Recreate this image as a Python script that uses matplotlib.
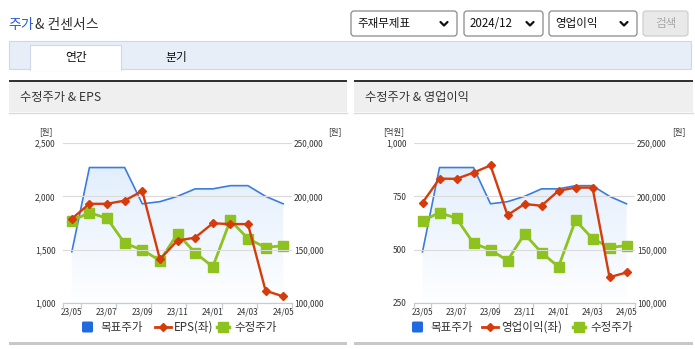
import numpy as np
import matplotlib.pyplot as plt
from matplotlib.patches import Rectangle, FancyBboxPatch
from matplotlib.ticker import FuncFormatter

plt.rcParams['font.family'] = ['Noto Sans CJK KR', 'DejaVu Sans']

W, H = 695, 349

# ===================== 데이터 =====================
months = ['23/05', '23/06', '23/07', '23/08', '23/09', '23/10', '23/11',
          '23/12', '24/01', '24/02', '24/03', '24/04', '24/05']
target_price = [148000, 227000, 227000, 227000, 193000, 195000, 200000,
                207000, 207000, 210000, 210000, 200000, 193000]
adj_price = [177000, 184700, 179400, 156000, 149800, 139800, 164700,
             147300, 133900, 177500, 160400, 152000, 153800]
eps = [1790, 1930, 1930, 1960, 2050, 1410, 1585, 1613, 1747, 1740, 1740, 1115, 1062]
op_income = [720, 833, 832, 861, 895, 662, 714, 706, 776, 791, 791, 371, 393]

BLUE = '#3d7be0'
RED = '#d63c0b'
GREEN = '#8dc21f'
TXT = '#333333'

fig = plt.figure(figsize=(W / 100, H / 100), dpi=100)
bg = fig.add_axes([0, 0, 1, 1])
bg.set_xlim(0, W)
bg.set_ylim(H, 0)
bg.axis('off')

# ===================== 상단 UI =====================
bg.text(8, 25, '주가', color='#2a5bd7', fontsize=10, va='center')
bg.text(35, 25, '& 컨센서스', color=TXT, fontsize=10, va='center')


def dropdown(x0, x1, label, disabled=False):
    fc = '#e9e9e9' if disabled else 'white'
    ec = '#cfcfcf' if disabled else '#8a8a8a'
    bg.add_patch(FancyBboxPatch((x0, 11), x1 - x0, 25, boxstyle='round,pad=0,rounding_size=3',
                                fc=fc, ec=ec, lw=0.9))
    if disabled:
        bg.text((x0 + x1) / 2, 23.5, label, color='#a8a8a8', fontsize=8.3, ha='center', va='center')
    else:
        bg.text(x0 + 6, 23.5, label, color='#111111', fontsize=8.3, va='center')
        cx = x1 - 13
        bg.plot([cx - 3.5, cx, cx + 3.5], [22, 25.5, 22], color='#111111', lw=1.6,
                solid_capstyle='round')


dropdown(351, 457, '주재무제표')
dropdown(464, 543, '2024/12')
dropdown(549, 637, '영업이익')
dropdown(643, 688, '검색', disabled=True)

# 탭
bg.add_patch(Rectangle((9, 41), 682, 28, fc='#e8eef8', ec='#cdd8ea', lw=0.8))
bg.add_patch(Rectangle((30, 45), 91, 25, fc='white', ec='#cdd8ea', lw=0.8))
bg.add_patch(Rectangle((30.5, 68), 90, 3, fc='white', ec='none'))
bg.text(76, 57, '연간', color='#111111', fontsize=8.5, ha='center', va='center')
bg.text(176, 57, '분기', color='#111111', fontsize=8.5, ha='center', va='center')

# ===================== 차트 =====================


def panel(px0, px1, title):
    bg.add_patch(Rectangle((px0, 79.5), px1 - px0, 2.2, fc='#333333', ec='none'))
    bg.add_patch(Rectangle((px0, 81.7), px1 - px0, 30.5, fc='#efefef', ec='none'))
    bg.plot([px0, px1], [112.5, 112.5], color='#dadada', lw=1)
    bg.text(px0 + 11, 98, title, color=TXT, fontsize=8.8, va='center')
    bg.add_patch(Rectangle((px0, 342), px1 - px0, 2.5, fc='#c8c8c8', ec='none'))


def chart(x0, x1, left_vals, left_lim, left_ticks, left_fmt, unit_l, unit_l_x, unit_r_x):
    y0, y1 = 143, 303
    ax = fig.add_axes([x0 / W, 1 - y1 / H, (x1 - x0) / W, (y1 - y0) / H])
    ax2 = ax.twinx()
    x = np.arange(len(months))

    # 목표주가 (면적 그라데이션)
    poly = ax2.fill_between(x, target_price, 100000, color='none', lw=0)
    grad = np.zeros((256, 1, 4))
    grad[:, 0, 0] = 0.87
    grad[:, 0, 1] = 0.925
    grad[:, 0, 2] = 0.99
    grad[:, 0, 3] = np.linspace(0.85, 0.03, 256)
    im = ax2.imshow(grad, extent=[-0.5, 12.5, 100000, 227000], aspect='auto',
                    origin='upper', zorder=1)
    im.set_clip_path(poly.get_paths()[0], transform=ax2.transData)
    ax2.plot(x, target_price, color=BLUE, lw=1.2, zorder=2)
    ax2.plot(x, adj_price, color=GREEN, lw=2.0, marker='s', ms=6.5, zorder=3)

    ax.plot(x, left_vals, color=RED, lw=1.7, marker='D', ms=4.2, zorder=4)

    ax.set_zorder(ax2.get_zorder() + 1)
    ax.patch.set_visible(False)
    ax2.patch.set_visible(False)

    ax.set_xlim(-0.5, 12.5)
    ax.set_ylim(*left_lim)
    ax2.set_ylim(100000, 250000)
    ax.set_yticks(left_ticks)
    ax2.set_yticks([100000, 150000, 200000, 250000])
    ax.yaxis.set_major_formatter(FuncFormatter(left_fmt))
    ax2.yaxis.set_major_formatter(FuncFormatter(lambda v, p: f'{int(v):,}'))
    ax.tick_params(axis='y', length=0, labelsize=6, pad=5.5, labelcolor=TXT)
    ax2.tick_params(axis='y', length=0, labelsize=6, pad=1.5, labelcolor=TXT)
    ax.yaxis.grid(True, color='#dadada', lw=0.8)
    ax.set_axisbelow(True)

    ax.set_xticks(x[::2])
    ax.set_xticklabels(months[::2])
    ax.set_xticks([-0.5] + list(np.arange(0.5, 13, 2)), minor=True)
    ax.tick_params(axis='x', which='major', length=0, labelsize=6, pad=3, labelcolor=TXT)
    ax.tick_params(axis='x', which='minor', length=4, width=0.9, color='#c3cdda')

    for a in (ax, ax2):
        for s in ('top', 'left', 'right'):
            a.spines[s].set_visible(False)
    ax2.spines['bottom'].set_visible(False)
    ax.spines['bottom'].set_color('#c3cdda')
    ax.spines['bottom'].set_linewidth(0.9)

    bg.text(unit_l_x, 132, unit_l, color=TXT, fontsize=6, ha='center', va='center')
    bg.text(unit_r_x, 132, '[원]', color=TXT, fontsize=6, ha='center', va='center')


def legend(bx, rx, gx, red_label):
    yc = 327
    bg.add_patch(FancyBboxPatch((bx, yc - 5.5), 11, 11, boxstyle='round,pad=0,rounding_size=1.5',
                                fc='#1f6ae0', ec='none'))
    bg.text(bx + 18, yc, '목표주가', color=TXT, fontsize=8.3, va='center')
    bg.plot([rx - 8, rx + 8], [yc, yc], color=RED, lw=2)
    bg.plot([rx], [yc], color=RED, marker='D', ms=4.5)
    bg.text(rx + 11, yc, red_label, color=TXT, fontsize=8.3, va='center')
    bg.plot([gx - 6, gx + 6], [yc, yc], color=GREEN, lw=2.5)
    bg.plot([gx], [yc], color=GREEN, marker='s', ms=6.5)
    bg.text(gx + 11, yc, '수정주가', color=TXT, fontsize=8.3, va='center')


panel(9, 347, '수정주가 & EPS')
panel(354, 693, '수정주가 & 영업이익')

chart(63, 292, eps, (1000, 2500), [1000, 1500, 2000, 2500],
      lambda v, p: f'{int(v):,}', '[원]', 46, 335)
chart(414, 635, op_income, (250, 1000), [250, 500, 750, 1000],
      lambda v, p: f'{int(v):,}', '[억원]', 394, 679)

legend(82, 163, 223, 'EPS(좌)')
legend(412, 490, 579, '영업이익(좌)')

fig.savefig('out.png', dpi=100)
